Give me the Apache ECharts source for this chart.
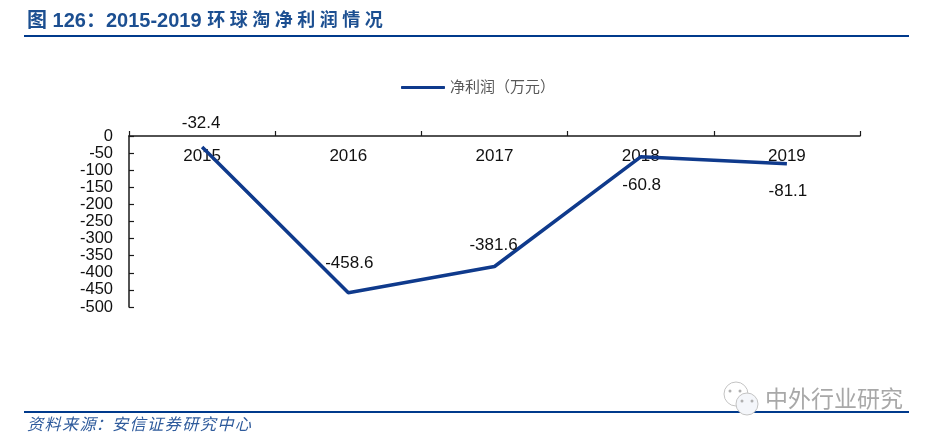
<!DOCTYPE html>
<html>
<head>
<meta charset="utf-8">
<title>环球淘净利润情况</title>
<script src="https://cdn.jsdelivr.net/npm/echarts@6/dist/echarts.min.js"></script>
<style>
html,body{margin:0;padding:0;background:#fff;}
#main{width:933px;height:442px;}
</style>
</head>
<body>
<div id="main"></div>
<script>
var years = ['2015', '2016', '2017', '2018', '2019'];
var profit = [-32.4, -458.6, -381.6, -60.8, -81.1];
var seriesName = '净利润（万元）';
// label placement for each point, [x, y] from the point
var labelShift = [[-1, -24], [1, -30], [-1, -21], [1, 29], [1, 28]];

var latin = '"Liberation Sans", Arial, sans-serif';
var cjk = '"Liberation Sans", "Noto Sans CJK SC", sans-serif';
var blue = '#0f3a8c';
var axisColor = '#1a1a1a';

var myChart = echarts.init(document.getElementById('main'));

var pointData = profit.map(function (v, i) {
    return {
        value: v,
        label: { offset: labelShift[i] }
    };
});

var option = {
    animation: false,
    backgroundColor: '#fff',
    legend: {
        left: 396,
        top: 75,
        itemWidth: 44,
        itemHeight: 3,
        data: [{ name: seriesName, icon: 'roundRect' }],
        textStyle: { color: '#595959', fontSize: 15, fontFamily: cjk }
    },
    grid: { left: 129, top: 136, width: 731, height: 171 },
    xAxis: {
        type: 'category',
        position: 'top',
        data: years,
        axisLine: { onZero: false, lineStyle: { color: axisColor, width: 1.5 } },
        axisTick: { show: true, interval: 0, length: 5, lineStyle: { color: axisColor, width: 1.2 } },
        axisLabel: { inside: true, margin: 12, color: '#111', fontSize: 17, fontFamily: latin }
    },
    yAxis: {
        type: 'value',
        min: -500,
        max: 0,
        interval: 50,
        splitLine: { show: false },
        axisLine: { show: true, lineStyle: { color: axisColor, width: 1.5 } },
        axisTick: { show: true, inside: true, length: 5, lineStyle: { color: axisColor, width: 1.2 } },
        axisLabel: { margin: 16, padding: [4, 0, 0, 0], color: '#111', fontSize: 16.5, fontFamily: latin,
            showMinLabel: true, showMaxLabel: true }
    },
    series: [{
        name: seriesName,
        type: 'line',
        data: pointData,
        symbol: 'circle',
        symbolSize: 0,
        lineStyle: { color: blue, width: 3.5 },
        itemStyle: { color: blue },
        label: {
            show: true,
            position: 'inside',
            color: '#111',
            fontSize: 17,
            fontFamily: latin,
            formatter: function (p) { return p.value.toFixed(1); }
        }
    }],
    graphic: [
        { type: 'rect', shape: { x: 24, y: 35, width: 885, height: 2 }, style: { fill: '#003a8c' } },
        { type: 'rect', shape: { x: 24, y: 411, width: 885, height: 2 }, style: { fill: '#003a8c' } },
        { type: 'text', x: 27, y: 11, style: {
            text: '{a|图 126：2015-2019 }{b|环\u2005球\u2005淘\u2005净\u2005利\u2005润\u2005情\u2005况}',
            rich: {
                a: { fill: '#1c4f91', fontSize: 20, fontWeight: 'bold', fontFamily: cjk },
                b: { fill: '#1c4f91', fontSize: 18, fontWeight: 'bold', fontFamily: cjk }
            } } },
        { type: 'text', x: 27, y: 417, style: {
            text: '资\u200a料\u200a来\u200a源：安\u200a信\u200a证\u200a券\u200a研\u200a究\u200a中\u200a心',
            fill: '#2f5b9c', fontSize: 16.2, fontStyle: 'italic', fontFamily: cjk } },
        // watermark
        { type: 'circle', z: 10, shape: { cx: 736, cy: 394, r: 12 }, style: { fill: '#fff', stroke: '#c4c4c4', lineWidth: 1 } },
        { type: 'circle', z: 11, shape: { cx: 747, cy: 404, r: 11 }, style: { fill: '#f4f6fa', stroke: '#c4c4c4', lineWidth: 1 } },
        { type: 'circle', z: 12, shape: { cx: 730, cy: 391, r: 1.5 }, style: { fill: '#b0b0b0' } },
        { type: 'circle', z: 12, shape: { cx: 740, cy: 391, r: 1.5 }, style: { fill: '#b0b0b0' } },
        { type: 'circle', z: 12, shape: { cx: 742, cy: 401, r: 1.5 }, style: { fill: '#b0b0b0' } },
        { type: 'circle', z: 12, shape: { cx: 752, cy: 401, r: 1.5 }, style: { fill: '#b0b0b0' } },
        { type: 'text', z: 10, x: 765, y: 389, style: {
            text: '中外行业研究', fill: '#a8a8a8', fontSize: 23, fontFamily: cjk } }
    ]
};
myChart.setOption(option);
</script>
</body>
</html>
